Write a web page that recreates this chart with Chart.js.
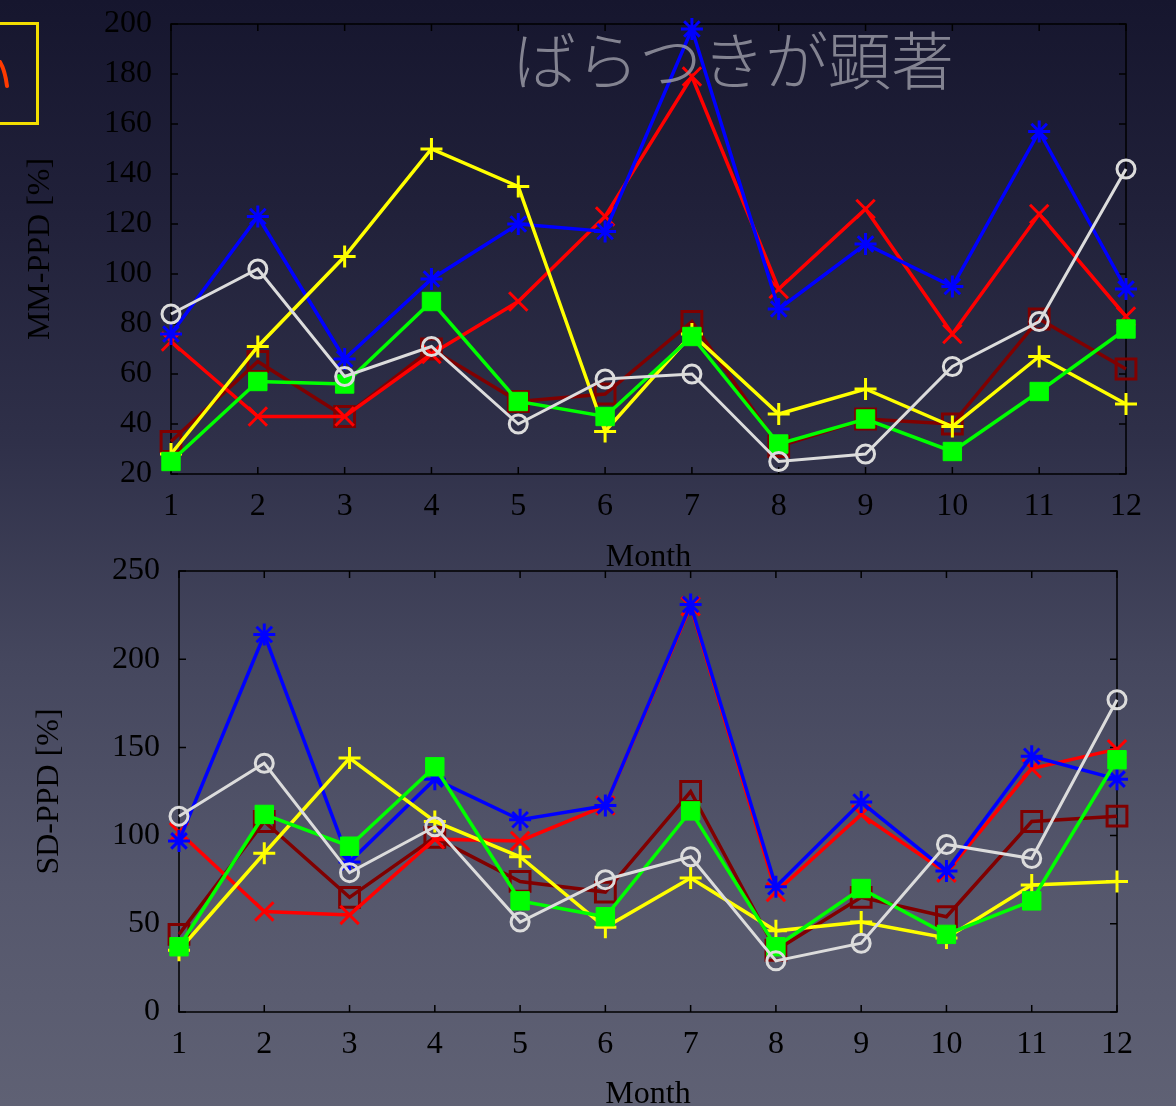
<!DOCTYPE html>
<html>
<head>
<meta charset="utf-8">
<script src="https://cdn.jsdelivr.net/npm/chart.js@4"></script>
<style>
  html, body { margin: 0; padding: 0; width: 1176px; height: 1106px; overflow: hidden; }
  body {
    position: relative;
    background: linear-gradient(180deg, #16162e 0%, #202039 18%, #2f3049 40%, #45475e 60%, #55576c 80%, #5f6174 100%);
  }
  canvas { position: absolute; left: 0; }
  #mm { top: 0; }
  #sd { top: 554px; }
  .headline {
    position: absolute; left: 513px; top: 11px;
    font-family: 'Noto Sans CJK JP', sans-serif; font-weight: 300; font-size: 63px;
    color: rgba(150, 150, 162, 0.85); white-space: nowrap;
  }
  .tag {
    position: absolute; left: -12px; top: 22px; width: 45px; height: 97px;
    border: 3px solid #f2de00;
  }
  .tag svg { position: absolute; left: 9px; top: 35px; }
</style>
</head>
<body>
<canvas id="mm" width="1176" height="585"></canvas>
<canvas id="sd" width="1176" height="566"></canvas>
<div class="tag"><svg width="20" height="40" viewBox="0 0 20 40"><path d="M0 2 Q5 10 7 26" fill="none" stroke="#ff3a00" stroke-width="4" stroke-linecap="round"/></svg></div>
<div class="headline">ばらつきが顕著</div>
<script>
// Month categories shared by both panels
const months = ['1', '2', '3', '4', '5', '6', '7', '8', '9', '10', '11', '12'];

// MM-PPD [%] per month
const mmBlue   = [76, 123, 66, 98, 120, 117, 198, 86, 112, 95, 157, 94];
const mmRed    = [73, 43, 43, 68, 89, 123, 179, 94, 126, 76, 124, 83];
const mmYellow = [28, 71, 107, 150, 135, 37, 76, 44, 54, 39, 67, 48];
const mmMaroon = [33, 65, 43, 70, 49, 52, 81, 31, 42, 40, 82, 62];
const mmGreen  = [25, 57, 56, 89, 49, 43, 75, 32, 42, 29, 53, 78];
const mmGray   = [84, 102, 59, 71, 40, 58, 60, 25, 28, 63, 81, 142];

// SD-PPD [%] per month
const sdBlue   = [97, 214, 85, 132, 109, 117, 231, 71, 119, 80, 145, 132];
const sdRed    = [102, 57, 55, 98, 97, 117, 230, 68, 112, 79, 138, 149];
const sdYellow = [35, 90, 144, 108, 88, 48, 76, 46, 51, 42, 72, 74];
const sdMaroon = [44, 108, 65, 99, 74, 68, 125, 35, 65, 54, 108, 111];
const sdGreen  = [37, 112, 94, 139, 63, 54, 114, 37, 70, 44, 63, 143];
const sdGray   = [111, 141, 79, 105, 51, 75, 88, 29, 39, 95, 87, 177];

// Axis ranges and tick steps
const mmAxis = { min: 20, max: 200, step: 20 };
const sdAxis = { min: 0, max: 250, step: 50 };

const serif = { family: "'Liberation Serif', 'DejaVu Serif', serif", size: 32 };

// Plot frame with inward tick marks on all four sides (gnuplot style)
const framePlugin = {
  id: 'frame',
  beforeDatasetsDraw(chart) {
    const { ctx, chartArea: a, scales: { x, y } } = chart;
    const t = 7;
    ctx.save();
    ctx.strokeStyle = '#000';
    ctx.lineWidth = 1.5;
    ctx.strokeRect(a.left, a.top, a.right - a.left, a.bottom - a.top);
    ctx.beginPath();
    x.ticks.forEach((_, i) => {
      const px = x.getPixelForTick(i);
      ctx.moveTo(px, a.bottom); ctx.lineTo(px, a.bottom - t);
      ctx.moveTo(px, a.top); ctx.lineTo(px, a.top + t);
    });
    y.ticks.forEach((_, i) => {
      const py = y.getPixelForTick(i);
      ctx.moveTo(a.left, py); ctx.lineTo(a.left + t, py);
      ctx.moveTo(a.right, py); ctx.lineTo(a.right - t, py);
    });
    ctx.stroke();
    ctx.restore();
  }
};

// Series styles, listed top-most first (Chart.js draws dataset 0 last)
function seriesSet(gray, green, yellow, blue, red, maroon) {
  const base = { fill: false, tension: 0, borderWidth: 3.5, pointBorderWidth: 3, clip: false };
  return [
    { ...base, data: gray,   borderColor: '#dcdcdc', borderWidth: 3, pointStyle: 'circle', pointRadius: 9, pointBackgroundColor: 'rgba(0,0,0,0)' },
    { ...base, data: green,  borderColor: '#00ff00', pointStyle: 'rect',     pointRadius: 13, pointBackgroundColor: '#00ff00', pointBorderWidth: 1 },
    { ...base, data: yellow, borderColor: '#ffff00', pointStyle: 'cross',    pointRadius: 11 },
    { ...base, data: blue,   borderColor: '#0000ff', pointStyle: 'star',     pointRadius: 11 },
    { ...base, data: red,    borderColor: '#ff0000', pointStyle: 'crossRot', pointRadius: 13 },
    { ...base, data: maroon, borderColor: '#800000', pointStyle: 'rect',     pointRadius: 14, pointBackgroundColor: 'rgba(0,0,0,0)' }
  ];
}

function makePanel(id, datasets, axis, yTitle, g) {
  return new Chart(document.getElementById(id), {
    type: 'line',
    data: { labels: months, datasets },
    options: {
      responsive: false,
      animation: false,
      events: [],
      layout: { padding: { left: 0, right: g.right, top: g.top, bottom: 0 } },
      plugins: { legend: { display: false }, tooltip: { enabled: false } },
      scales: {
        x: {
          type: 'category',
          offset: false,
          grid: { display: false, drawTicks: false },
          border: { display: false },
          ticks: { color: '#000', font: serif, padding: g.xPad, maxRotation: 0, autoSkip: false },
          title: { display: true, text: 'Month', color: '#000', font: serif, padding: { top: 0, bottom: g.titlePad } },
          afterFit(s) { s.height = g.xh; s.paddingLeft = 0; s.paddingRight = 0; }
        },
        y: {
          min: axis.min, max: axis.max,
          grid: { display: false, drawTicks: false },
          border: { display: false },
          ticks: { stepSize: axis.step, color: '#000', font: serif, padding: 19 },
          title: { display: true, text: yTitle, color: '#000', font: serif, padding: { top: g.yTitlePad, bottom: 0 } },
          afterFit(s) { s.width = g.yw; s.paddingTop = 0; s.paddingBottom = 0; }
        }
      }
    },
    plugins: [framePlugin]
  });
}

makePanel('mm', seriesSet(mmGray, mmGreen, mmYellow, mmBlue, mmRed, mmMaroon), mmAxis, 'MM-PPD [%]',
  { right: 50, top: 24, yw: 171, xh: 111, xPad: 13, titlePad: 8, yTitlePad: 21 });
makePanel('sd', seriesSet(sdGray, sdGreen, sdYellow, sdBlue, sdRed, sdMaroon), sdAxis, 'SD-PPD [%]',
  { right: 59, top: 11, yw: 179, xh: 108, xPad: 13, titlePad: 6, yTitlePad: 30 });
</script>
</body>
</html>
